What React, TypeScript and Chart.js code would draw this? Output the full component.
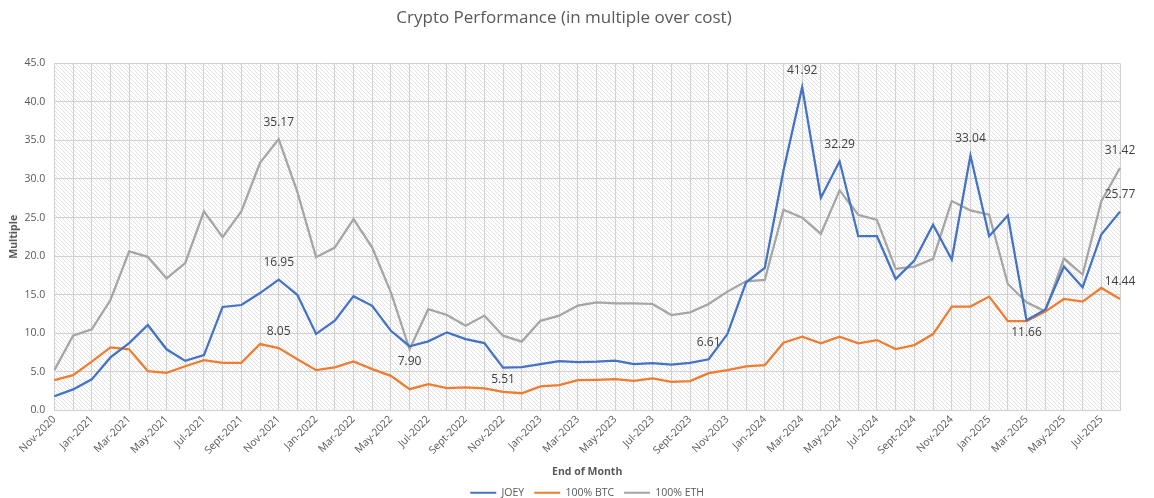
import React, { useEffect, useRef } from 'react';
import { Chart, registerables } from 'chart.js';

Chart.register(...registerables);

const MONTHS: string[] = [
  'Nov-2020', 'Dec-2020',
  'Jan-2021', 'Feb-2021', 'Mar-2021', 'Apr-2021', 'May-2021', 'Jun-2021', 'Jul-2021', 'Aug-2021', 'Sept-2021', 'Oct-2021', 'Nov-2021', 'Dec-2021',
  'Jan-2022', 'Feb-2022', 'Mar-2022', 'Apr-2022', 'May-2022', 'Jun-2022', 'Jul-2022', 'Aug-2022', 'Sept-2022', 'Oct-2022', 'Nov-2022', 'Dec-2022',
  'Jan-2023', 'Feb-2023', 'Mar-2023', 'Apr-2023', 'May-2023', 'Jun-2023', 'Jul-2023', 'Aug-2023', 'Sept-2023', 'Oct-2023', 'Nov-2023', 'Dec-2023',
  'Jan-2024', 'Feb-2024', 'Mar-2024', 'Apr-2024', 'May-2024', 'Jun-2024', 'Jul-2024', 'Aug-2024', 'Sept-2024', 'Oct-2024', 'Nov-2024', 'Dec-2024',
  'Jan-2025', 'Feb-2025', 'Mar-2025', 'Apr-2025', 'May-2025', 'Jun-2025', 'Jul-2025', 'Aug-2025',
];

const JOEY: number[] = [
  1.8, 2.7, 4.0, 6.85, 8.7, 11.05, 7.9, 6.4, 7.15, 13.4,
  13.65, 15.2, 16.95, 14.95, 9.9, 11.6, 14.8, 13.55, 10.3, 8.3,
  8.93, 10.1, 9.23, 8.71, 5.51, 5.6, 5.98, 6.37, 6.24, 6.29,
  6.42, 5.98, 6.11, 5.9, 6.15, 6.61, 9.88, 16.6, 18.47, 31.1,
  41.92, 27.57, 32.29, 22.58, 22.58, 17.03, 19.42, 24.06, 19.55, 33.04,
  22.58, 25.27, 11.66, 13.05, 18.64, 15.95, 22.8, 25.77,
];

const BTC: number[] = [
  3.9, 4.55, 6.3, 8.15, 7.9, 5.07, 4.85, 5.7, 6.5, 6.15,
  6.15, 8.58, 8.05, 6.6, 5.2, 5.55, 6.33, 5.33, 4.46, 2.73,
  3.38, 2.86, 2.95, 2.82, 2.38, 2.2, 3.08, 3.25, 3.9, 3.94,
  4.03, 3.81, 4.12, 3.68, 3.77, 4.81, 5.2, 5.68, 5.85, 8.76,
  9.54, 8.67, 9.54, 8.67, 9.1, 7.93, 8.45, 9.88, 13.44, 13.44,
  14.74, 11.57, 11.57, 12.79, 14.43, 14.09, 15.86, 14.44,
];

const ETH: number[] = [
  5.2, 9.67, 10.5, 14.3, 20.6, 19.9, 17.1, 19.1, 25.8, 22.45,
  25.8, 32.1, 35.17, 28.3, 19.85, 21.1, 24.8, 21.1, 15.3, 7.9,
  13.1, 12.35, 10.97, 12.27, 9.67, 8.9, 11.6, 12.27, 13.57, 14.0,
  13.87, 13.87, 13.78, 12.35, 12.7, 13.78, 15.39, 16.73, 16.9, 26.0,
  24.97, 22.89, 28.52, 25.36, 24.7, 18.34, 18.64, 19.64, 27.13, 25.92,
  25.36, 16.38, 14.0, 12.83, 19.68, 17.6, 27.13, 31.42,
];

const SERIES_NAMES: string[] = ['JOEY', '100% BTC', '100% ETH'];
const SERIES_COLORS: string[] = ['#4472C4', '#ED7D31', '#A5A5A5'];

// labelled points: [dataset index, point index, placed below?]
const LABELLED_POINTS: [number, number, boolean][] = [
  [2, 12, false], [0, 12, false], [1, 12, false],
  [2, 19, true], [0, 24, true], [0, 35, false],
  [0, 40, false], [0, 42, false], [0, 49, false], [0, 52, true],
  [2, 57, false], [0, 57, false], [1, 57, false],
];

const Y_MIN = 0;
const Y_MAX = 45;
const Y_STEP = 5;

const FONT = "'Open Sans', 'Noto Sans', sans-serif";
const TEXT = '#595959';

function makeHatch(): CanvasPattern | string {
  const c = document.createElement('canvas');
  c.width = 4;
  c.height = 4;
  const g = c.getContext('2d');
  if (!g) return '#fff';
  g.fillStyle = '#ffffff';
  g.fillRect(0, 0, 4, 4);
  g.fillStyle = '#e2e2e2';
  for (let i = 0; i < 4; i++) g.fillRect(i, i, 1, 1);
  const p = g.createPattern(c, 'repeat');
  return p || '#fff';
}

export default function App() {
  const ref = useRef<HTMLCanvasElement>(null);

  useEffect(() => {
    document.body.style.margin = '0';
    const canvas = ref.current;
    if (!canvas) return;
    const hatch = makeHatch();

    const hatchPlugin = {
      id: 'hatchBg',
      beforeDraw(chart: any) {
        const { ctx, chartArea } = chart;
        if (!chartArea) return;
        ctx.save();
        ctx.fillStyle = hatch;
        ctx.fillRect(chartArea.left, chartArea.top, chartArea.right - chartArea.left, chartArea.bottom - chartArea.top);
        ctx.restore();
      },
    };

    const labelPlugin = {
      id: 'pointLabels',
      afterDatasetsDraw(chart: any) {
        const { ctx } = chart;
        ctx.save();
        ctx.font = `12px ${FONT}`;
        ctx.fillStyle = '#404040';
        ctx.textAlign = 'center';
        ctx.textBaseline = 'middle';
        for (const [ds, idx, below] of LABELLED_POINTS) {
          const meta = chart.getDatasetMeta(ds);
          const pt = meta.data[idx];
          if (!pt) continue;
          const v = chart.data.datasets[ds].data[idx] as number;
          ctx.fillText(v.toFixed(2), pt.x, pt.y + (below ? 12 : -17));
        }
        ctx.restore();
      },
    };

    const seriesData = [JOEY, BTC, ETH];

    const chart = new Chart(canvas, {
      type: 'line',
      data: {
        labels: MONTHS,
        datasets: seriesData.map((d, i) => ({
          label: SERIES_NAMES[i],
          data: d,
          borderColor: SERIES_COLORS[i],
          backgroundColor: SERIES_COLORS[i],
          borderWidth: 2.25,
          pointRadius: 0,
          pointHoverRadius: 0,
          tension: 0,
          fill: false,
        })),
      },
      options: {
        animation: false,
        responsive: true,
        maintainAspectRatio: false,
        layout: { padding: { top: 4, right: 34, left: 8, bottom: -10 } },
        plugins: {
          title: {
            display: true,
            text: 'Crypto Performance (in multiple over cost)',
            color: TEXT,
            font: { family: FONT, size: 17, weight: 'normal' },
            padding: { top: 4, bottom: 35 },
          },
          legend: {
            position: 'bottom',
            fullSize: false,
            labels: {
              color: TEXT,
              font: { family: FONT, size: 10.5 },
              boxWidth: 26,
              boxHeight: 2,
              padding: 10,
              generateLabels: (ch: any) =>
                Chart.defaults.plugins.legend.labels.generateLabels(ch).map((l: any) => ({
                  ...l,
                  lineWidth: 0,
                  fillStyle: l.strokeStyle,
                })),
            },
          },
          tooltip: { enabled: false },
        },
        scales: {
          x: {
            grid: { color: '#d0d0d0', drawTicks: false, lineWidth: 1 },
            border: { color: '#d0d0d0' },
            ticks: {
              autoSkip: false,
              maxRotation: 45,
              minRotation: 45,
              padding: 3,
              color: TEXT,
              font: { family: FONT, size: 10.5 },
              callback: (_v: any, i: number) => (i % 2 === 0 ? MONTHS[i] : ''),
            },
            title: {
              display: true,
              text: 'End of Month',
              color: TEXT,
              font: { family: FONT, size: 10.5, weight: 'bold' },
              padding: { top: 6, bottom: -1 },
            },
          },
          y: {
            min: Y_MIN,
            max: Y_MAX,
            grid: { color: '#d0d0d0', drawTicks: false },
            border: { display: false },
            ticks: {
              stepSize: Y_STEP,
              padding: 9,
              color: TEXT,
              font: { family: FONT, size: 10.5 },
              callback: (v: any) => Number(v).toFixed(1),
            },
            title: {
              display: true,
              text: 'Multiple',
              color: TEXT,
              font: { family: FONT, size: 10.5, weight: 'bold' },
              padding: { top: 0, bottom: -5 },
            },
          },
        },
      },
      plugins: [hatchPlugin, labelPlugin],
    });

    return () => chart.destroy();
  }, []);

  return (
    <div style={{ width: 1154, height: 498, position: 'relative' }}>
      <canvas ref={ref} />
    </div>
  );
}
